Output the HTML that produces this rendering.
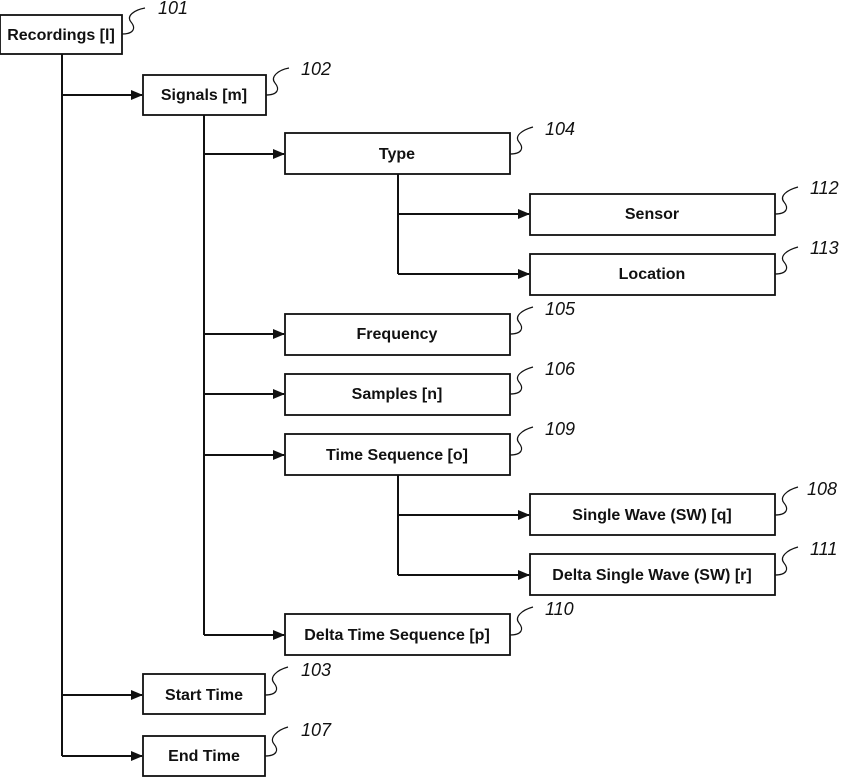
<!DOCTYPE html>
<html><head><meta charset="utf-8"><style>
html,body{margin:0;padding:0;background:#fff;}
svg{display:block;}
.b{fill:#fff;stroke:#111;stroke-width:1.8;}
.t{font-family:"Liberation Sans",sans-serif;font-weight:bold;font-size:16px;fill:#111;text-anchor:middle;}
.n{font-family:"Liberation Sans",sans-serif;font-style:italic;font-size:18px;fill:#111;}
.l{stroke:#111;stroke-width:2;fill:none;}
.s{stroke:#111;stroke-width:1.2;fill:none;}
</style></head><body>
<svg width="843" height="777" viewBox="0 0 843 777" xmlns="http://www.w3.org/2000/svg">
<defs><marker id="a" markerWidth="12" markerHeight="10" refX="11" refY="5" orient="auto" markerUnits="userSpaceOnUse"><path d="M0,0 L12,5 L0,10 Z" fill="#111"/></marker></defs>
<path class="l" d="M62,54 V756"/>
<path class="l" d="M204,115 V635"/>
<path class="l" d="M398,174 V274"/>
<path class="l" d="M398,475 V575"/>
<g class="l">
<path d="M62,95 H142" marker-end="url(#a)"/>
<path d="M204,154 H284" marker-end="url(#a)"/>
<path d="M398,214 H529" marker-end="url(#a)"/>
<path d="M398,274 H529" marker-end="url(#a)"/>
<path d="M204,334 H284" marker-end="url(#a)"/>
<path d="M204,394 H284" marker-end="url(#a)"/>
<path d="M204,455 H284" marker-end="url(#a)"/>
<path d="M398,515 H529" marker-end="url(#a)"/>
<path d="M398,575 H529" marker-end="url(#a)"/>
<path d="M204,635 H284" marker-end="url(#a)"/>
<path d="M62,695 H142" marker-end="url(#a)"/>
<path d="M62,756 H142" marker-end="url(#a)"/>
</g>
<rect class="b" x="0" y="15" width="122" height="39"/><text class="t" x="61" y="40">Recordings [l]</text>
<rect class="b" x="143" y="75" width="123" height="40"/><text class="t" x="204" y="100">Signals [m]</text>
<rect class="b" x="285" y="133" width="225" height="41"/><text class="t" x="397" y="159">Type</text>
<rect class="b" x="530" y="194" width="245" height="41"/><text class="t" x="652" y="219">Sensor</text>
<rect class="b" x="530" y="254" width="245" height="41"/><text class="t" x="652" y="279">Location</text>
<rect class="b" x="285" y="314" width="225" height="41"/><text class="t" x="397" y="339">Frequency</text>
<rect class="b" x="285" y="374" width="225" height="41"/><text class="t" x="397" y="399">Samples [n]</text>
<rect class="b" x="285" y="434" width="225" height="41"/><text class="t" x="397" y="460">Time Sequence [o]</text>
<rect class="b" x="530" y="494" width="245" height="41"/><text class="t" x="652" y="520">Single Wave (SW) [q]</text>
<rect class="b" x="530" y="554" width="245" height="41"/><text class="t" x="652" y="580">Delta Single Wave (SW) [r]</text>
<rect class="b" x="285" y="614" width="225" height="41"/><text class="t" x="397" y="640">Delta Time Sequence [p]</text>
<rect class="b" x="143" y="674" width="122" height="40"/><text class="t" x="204" y="700">Start Time</text>
<rect class="b" x="143" y="736" width="122" height="40"/><text class="t" x="204" y="761">End Time</text>
<g class="s">
<path d="M122,34 C134,34 136,28 131,22 S134,10 145,8"/>
<path d="M266,95 C278,95 280,89 275,83 S278,70 289,68"/>
<path d="M510,154 C522,154 524,148 519,142 S522,130 533,127"/>
<path d="M775,214 C787,214 789,208 784,202 S787,190 798,187"/>
<path d="M775,274 C787,274 789,268 784,262 S787,250 798,247"/>
<path d="M510,334 C522,334 524,328 519,322 S522,310 533,307"/>
<path d="M510,394 C522,394 524,388 519,382 S522,370 533,367"/>
<path d="M510,455 C522,455 524,449 519,443 S522,430 533,427"/>
<path d="M775,515 C787,515 789,509 784,503 S787,490 798,487"/>
<path d="M775,575 C787,575 789,569 784,563 S787,550 798,547"/>
<path d="M510,635 C522,635 524,629 519,623 S522,610 533,607"/>
<path d="M265,695 C277,695 279,689 274,683 S277,670 288,667"/>
<path d="M265,756 C277,756 279,750 274,744 S277,730 288,727"/>
</g>
<text class="n" x="158" y="14">101</text>
<text class="n" x="301" y="75">102</text>
<text class="n" x="545" y="135">104</text>
<text class="n" x="810" y="194">112</text>
<text class="n" x="810" y="254">113</text>
<text class="n" x="545" y="315">105</text>
<text class="n" x="545" y="375">106</text>
<text class="n" x="545" y="435">109</text>
<text class="n" x="807" y="495">108</text>
<text class="n" x="810" y="555">111</text>
<text class="n" x="545" y="615">110</text>
<text class="n" x="301" y="676">103</text>
<text class="n" x="301" y="736">107</text>
</svg>
</body></html>
